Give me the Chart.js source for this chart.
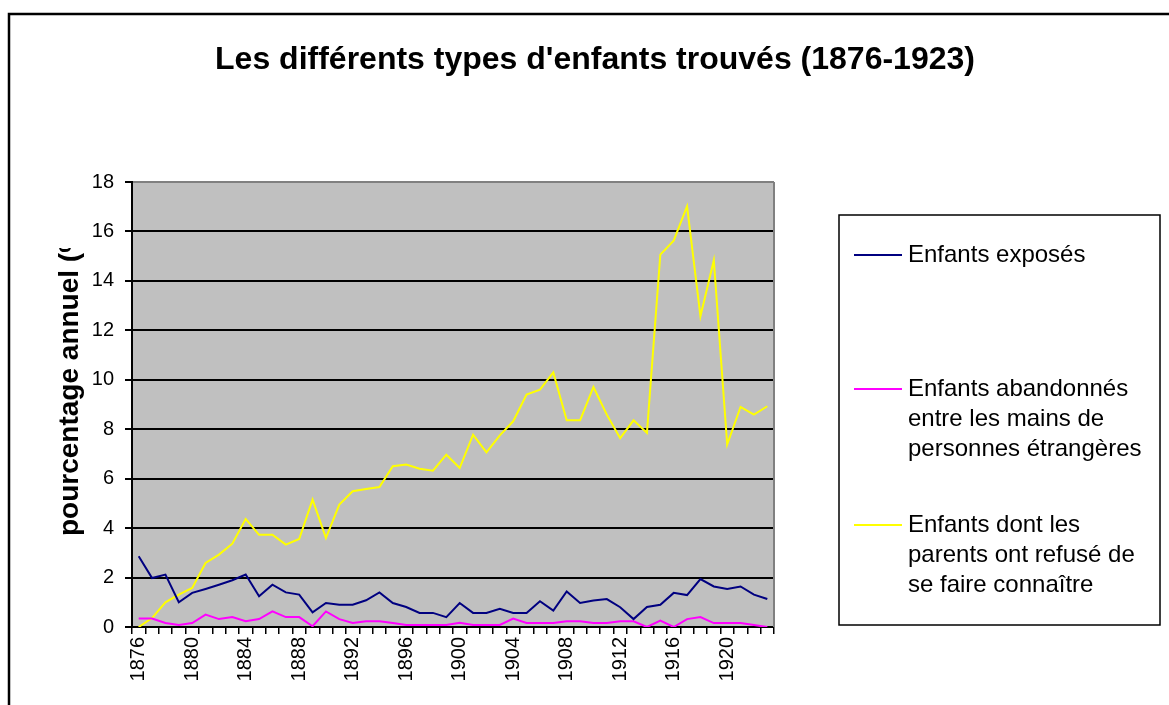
<!DOCTYPE html>
<html lang="fr">
<head>
<meta charset="UTF-8">
<title>Les différents types d'enfants trouvés (1876-1923)</title>
<script src="https://cdn.jsdelivr.net/npm/chart.js"></script>
<style>
  html, body { margin: 0; padding: 0; background: #ffffff; }
  #wrap { width: 1169px; height: 705px; }
</style>
</head>
<body>
<div id="wrap"><canvas id="chart" width="1169" height="705"></canvas></div>
<script>
// years on the category axis
const years = ['1876','1877','1878','1879','1880','1881','1882','1883','1884','1885',
  '1886','1887','1888','1889','1890','1891','1892','1893','1894','1895',
  '1896','1897','1898','1899','1900','1901','1902','1903','1904','1905',
  '1906','1907','1908','1909','1910','1911','1912','1913','1914','1915',
  '1916','1917','1918','1919','1920','1921','1922','1923'];

// annual percentages
const exposes = [2.86,1.98,2.12,1.00,1.38,1.54,1.71,1.89,2.12,1.24,
  1.71,1.40,1.31,0.59,0.97,0.90,0.90,1.08,1.40,0.97,
  0.81,0.57,0.57,0.40,0.97,0.57,0.57,0.74,0.57,0.57,
  1.04,0.66,1.44,0.97,1.07,1.13,0.80,0.32,0.81,0.90,
  1.38,1.29,1.94,1.64,1.54,1.64,1.31,1.13];

const abandonnes = [0.34,0.34,0.16,0.08,0.16,0.50,0.32,0.40,0.23,0.32,
  0.63,0.40,0.40,0.03,0.63,0.32,0.16,0.23,0.23,0.16,
  0.08,0.08,0.08,0.08,0.17,0.08,0.08,0.08,0.34,0.16,
  0.16,0.16,0.23,0.23,0.16,0.16,0.23,0.23,0.00,0.26,
  0.00,0.32,0.40,0.16,0.16,0.16,0.08,0.00];

const refus = [0.00,0.36,1.00,1.31,1.58,2.59,2.93,3.37,4.37,3.73,
  3.73,3.33,3.56,5.15,3.60,4.95,5.49,5.58,5.66,6.50,
  6.57,6.40,6.32,6.97,6.43,7.78,7.06,7.75,8.32,9.40,
  9.60,10.30,8.36,8.36,9.71,8.59,7.64,8.36,7.85,15.06,
  15.63,17.02,12.57,14.83,7.38,8.90,8.59,8.93];

const yMin = 0, yMax = 18, yStep = 2;

const titleText = "Les différents types d'enfants trouvés (1876-1923)";
const yTitleText = 'pourcentage annuel (%)';
const legendLines = [
  ['Enfants exposés'],
  ['Enfants abandonnés', 'entre les mains de', 'personnes étrangères'],
  ['Enfants dont les', 'parents ont refusé de', 'se faire connaître']
];
const colors = ['#000080', '#ff00ff', '#ffff00'];

const FONT = "'Liberation Sans', Arial, sans-serif";

const decor = {
  id: 'decor',
  beforeDraw(chart) {
    const { ctx, chartArea: a } = chart;
    ctx.save();
    ctx.fillStyle = '#ffffff';
    ctx.fillRect(0, 0, chart.width, chart.height);
    ctx.fillStyle = '#c0c0c0';
    ctx.fillRect(a.left, a.top, a.right - a.left, a.bottom - a.top);
    ctx.restore();
  },
  beforeDatasetsDraw(chart) {
    const { ctx, chartArea: a } = chart;
    ctx.save();
    ctx.strokeStyle = '#808080';
    ctx.lineWidth = 2;
    ctx.beginPath();
    ctx.moveTo(a.right, a.top);
    ctx.lineTo(a.right, a.bottom);
    ctx.stroke();
    ctx.restore();
  },
  afterDraw(chart) {
    const { ctx } = chart;
    ctx.save();

    // outer frame of the chart object
    ctx.strokeStyle = '#000000';
    ctx.lineWidth = 2.5;
    ctx.strokeRect(9, 14, 1200, 720);

    // title
    ctx.fillStyle = '#000000';
    ctx.font = 'bold 32px ' + FONT;
    ctx.textAlign = 'center';
    ctx.textBaseline = 'middle';
    ctx.fillText(titleText, 595, 60);

    // y axis title, cut off at the top like the original
    ctx.save();
    ctx.beginPath();
    ctx.rect(0, 248, 130, 460);
    ctx.clip();
    ctx.translate(78, 536);
    ctx.rotate(-Math.PI / 2);
    ctx.font = 'bold 28px ' + FONT;
    ctx.textAlign = 'left';
    ctx.textBaseline = 'alphabetic';
    ctx.fillText(yTitleText, 0, 0);
    ctx.restore();

    // legend
    ctx.strokeStyle = '#000000';
    ctx.lineWidth = 1.5;
    ctx.strokeRect(839, 215, 321, 410);
    const rows = [255, 389, 525];
    ctx.font = '24px ' + FONT;
    ctx.textAlign = 'left';
    ctx.textBaseline = 'middle';
    legendLines.forEach((lines, i) => {
      const y = rows[i];
      ctx.strokeStyle = chart.data.datasets[i].borderColor;
      ctx.lineWidth = 2;
      ctx.beginPath();
      ctx.moveTo(854, y);
      ctx.lineTo(902, y);
      ctx.stroke();
      ctx.fillStyle = '#000000';
      lines.forEach((t, j) => ctx.fillText(t, 908, y + j * 30));
    });
    ctx.restore();
  }
};

new Chart(document.getElementById('chart'), {
  type: 'line',
  data: {
    labels: years,
    datasets: [
      { label: 'Enfants exposés', data: exposes, borderColor: colors[0] },
      { label: 'Enfants abandonnés entre les mains de personnes étrangères', data: abandonnes, borderColor: colors[1] },
      { label: 'Enfants dont les parents ont refusé de se faire connaître', data: refus, borderColor: colors[2] }
    ]
  },
  options: {
    responsive: false,
    animation: false,
    events: [],
    layout: { padding: { left: 0, top: 182, right: 395, bottom: 0 } },
    elements: {
      line: { borderWidth: 2, tension: 0, fill: false },
      point: { radius: 0 }
    },
    plugins: {
      legend: { display: false },
      title: { display: false },
      tooltip: { enabled: false }
    },
    scales: {
      x: {
        type: 'category',
        offset: true,
        border: { color: '#000000', width: 2 },
        grid: {
          offset: true,
          drawOnChartArea: false,
          drawTicks: true,
          tickLength: 7,
          tickColor: '#000000',
          color: '#000000',
          lineWidth: 1.5
        },
        ticks: {
          autoSkip: false,
          minRotation: 90,
          maxRotation: 90,
          padding: 3,
          color: '#000000',
          font: { family: FONT, size: 20 },
          callback: function (value, index) {
            return index % 4 === 0 ? this.getLabelForValue(value) : '';
          }
        },
        afterFit: (s) => { s.height = 78; }
      },
      y: {
        min: yMin,
        max: yMax,
        border: { color: '#000000', width: 2 },
        grid: {
          color: (c) => (c.tick && c.tick.value === yMax ? '#808080' : '#000000'),
          tickColor: '#000000',
          lineWidth: 2,
          tickLength: 7
        },
        ticks: {
          stepSize: yStep,
          padding: 11,
          color: '#000000',
          font: { family: FONT, size: 20 }
        },
        afterFit: (s) => { s.width = 132; }
      }
    }
  },
  plugins: [decor]
});
</script>
</body>
</html>
